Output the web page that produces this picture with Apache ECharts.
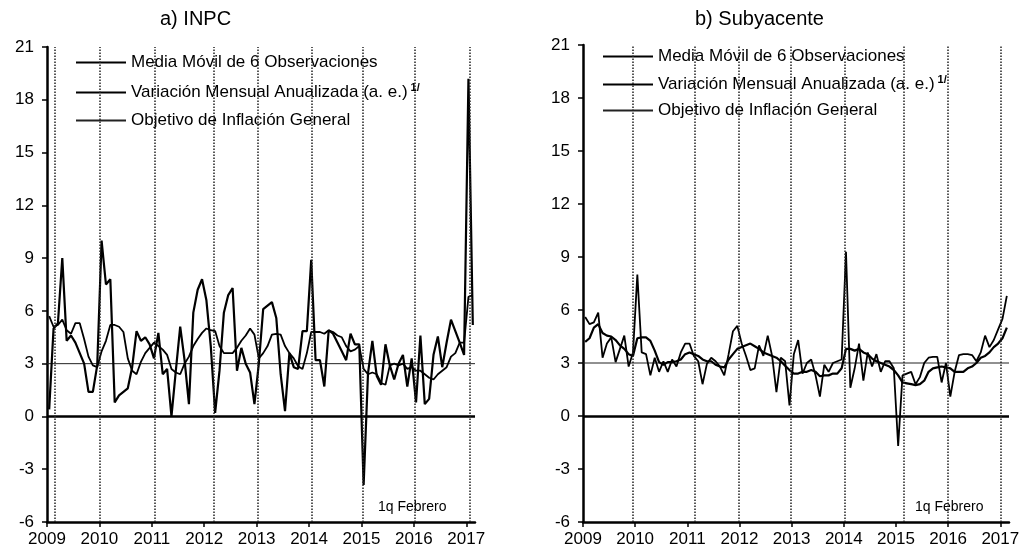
<!DOCTYPE html>
<html lang="es">
<head>
<meta charset="UTF-8">
<title>INPC y Subyacente</title>
<script src="https://cdn.jsdelivr.net/npm/echarts@6/dist/echarts.min.js"></script>
<style>
  body { margin: 0; background: #fff; }
  .panel { position: absolute; top: 0; width: 513px; height: 554px; }
</style>
</head>
<body>
<div id="a" class="panel" style="left:0"></div>
<div id="b" class="panel" style="left:513px"></div>
<script>
// datos mensuales, ene-2009 a 1q feb-2017 (se dibujan a mitad de mes)
var anios = ['2009', '2010', '2011', '2012', '2013', '2014', '2015', '2016', '2017'];
var objetivo = 3;

var inpcMedia = [
  5.7, 5.1, 5.2, 5.5, 4.9, 4.7, 5.3, 5.3, 4.4, 3.4,
  2.9, 2.8, 3.7, 4.3, 5.2, 5.2, 5.1, 4.8, 3.3, 2.6,
  2.4, 3.1, 3.6, 3.9, 4.2, 4.0, 3.8, 3.5, 2.7, 2.5,
  2.4, 3.0, 3.4, 4.0, 4.4, 4.75, 5.0, 4.9, 4.85, 4.0,
  3.6, 3.6, 3.6, 3.9, 4.3, 4.6, 5.0, 4.65, 3.3, 3.6,
  4.0, 4.65, 4.7, 4.65, 4.0, 3.6, 3.3, 2.85, 2.7, 3.6,
  4.8, 4.8, 4.8, 4.7, 4.9, 4.8, 4.6, 4.5, 4.0, 3.7,
  3.8, 4.0, 2.7, 2.4, 2.5, 2.4, 1.9, 1.8, 2.9, 3.0,
  2.9, 3.0, 2.7, 2.8, 2.6, 2.6, 2.4, 2.2, 2.1, 2.4,
  2.6, 2.8, 3.4, 3.6, 4.2, 4.2, 6.8, 6.9
];
var inpcVar = [
  0.4, 5.0, 5.3, 9.0, 4.3, 4.6, 4.2, 3.6, 3.0, 1.4,
  1.4, 2.9, 10.0, 7.5, 7.8, 0.8, 1.2, 1.4, 1.6, 2.8,
  4.85, 4.3, 4.5, 4.1, 3.3, 4.75, 2.4, 2.7, 0.0, 2.6,
  5.1, 3.2, 0.7, 5.9, 7.2, 7.8, 6.6, 4.0, 0.2, 2.6,
  5.9, 6.9, 7.3, 2.6, 3.9, 3.0, 2.5, 0.7, 3.0, 6.1,
  6.3, 6.5, 5.6, 2.4, 0.3, 3.6, 2.8, 2.7, 4.85, 4.85,
  8.9, 3.2, 3.2, 1.7, 4.9, 4.7, 4.2, 3.7, 3.2, 4.7,
  4.1, 4.1, -3.9, 2.45, 4.3, 2.3, 1.8, 4.1, 2.9, 2.1,
  3.0, 3.5, 1.7, 3.3, 0.8, 4.6, 0.7, 1.0, 3.5, 4.55,
  2.8, 4.2, 5.5, 4.85, 4.2, 3.5, 19.2, 5.2
];
var subMedia = [
  4.2, 4.4, 5.0, 5.2, 4.7, 4.55, 4.5, 4.3, 4.0, 3.8,
  3.5, 3.4, 4.4, 4.45, 4.45, 4.25, 3.7, 3.05, 2.9, 3.05,
  3.05, 3.1, 3.2, 3.5, 3.6, 3.5, 3.4, 3.2, 3.1, 3.1,
  2.9, 2.8, 2.75, 3.2, 3.5, 3.8, 3.9, 4.0, 4.1, 3.95,
  3.8, 3.6, 3.5, 3.4, 3.3, 3.1, 2.85, 2.6, 2.4, 2.4,
  2.5, 2.5, 2.6, 2.5, 2.25, 2.3, 2.3, 2.4, 2.4, 2.7,
  3.8, 3.8, 3.7, 3.8, 3.6, 3.5, 3.25, 3.1, 3.0, 2.9,
  2.8, 2.6, 2.3, 1.9, 1.85, 1.8, 1.75, 1.8, 2.0, 2.5,
  2.7, 2.75, 2.8, 2.75, 2.7, 2.5, 2.5, 2.5, 2.7, 2.8,
  3.0, 3.3, 3.4, 3.6, 3.9, 4.1, 4.4, 5.0
];
var subVar = [
  5.6, 5.2, 5.3, 5.85, 3.3, 4.1, 4.45, 3.05, 3.8, 4.55,
  2.8, 3.6, 8.0, 3.6, 3.5, 2.3, 3.3, 2.5, 3.1, 2.5,
  3.2, 2.8, 3.6, 4.1, 4.1, 3.4, 3.1, 1.8, 2.95, 3.3,
  3.1, 2.8, 2.3, 3.5, 4.8, 5.1, 4.1, 3.4, 2.6, 2.7,
  4.0, 3.4, 4.55, 3.4, 1.35, 3.3, 3.1, 0.6, 3.5, 4.3,
  2.4, 3.0, 3.2, 2.3, 1.1, 2.9, 2.5, 3.0, 3.1, 3.2,
  9.3, 1.6, 2.7, 4.1, 2.0, 3.6, 2.8, 3.5, 2.5, 3.1,
  3.1, 2.7, -1.7, 2.3, 2.4, 2.5, 1.8, 2.2, 3.0, 3.3,
  3.35, 3.35, 1.9, 3.0, 1.1, 2.5, 3.45, 3.5, 3.5, 3.45,
  3.1, 3.6, 4.55, 3.9, 4.3, 4.9, 5.5, 6.8
];
// lineas punteadas verticales (en meses desde ene-2009)
var marcasA = [1.7, 12, 24.6, 38.2, 48.2, 60.6, 72.3, 84.3, 96.7];
var marcasB = [11.5, 25.7, 35.8, 47.7, 60.1, 73.9, 84, 96];

var nombres = ['Media Móvil de 6 Observaciones', 'Variación Mensual Anualizada (a. e.)', 'Objetivo de Inflación General'];
var fuente = '"Liberation Sans", Arial, sans-serif';

function serie(valores) {
  return valores.map(function (v, i) { return [i + 0.5, v]; });
}

function dibujar(id, cfg) {
  var chart = echarts.init(document.getElementById(id));
  var option = {
    animation: false,
    backgroundColor: '#fff',
    textStyle: { fontFamily: fuente, color: '#000' },
    title: {
      text: cfg.titulo,
      left: cfg.tituloX,
      top: 4,
      textStyle: { fontFamily: fuente, fontSize: 20, fontWeight: 'normal', color: '#000' }
    },
    legend: {
      data: nombres,
      orient: 'vertical',
      left: cfg.leyendaX,
      top: cfg.leyendaY,
      padding: 0,
      itemWidth: 50,
      itemHeight: 12,
      itemGap: cfg.leyendaGap,
      selectedMode: false,
      itemStyle: { opacity: 0 },
      formatter: function (name) {
        return name === nombres[1] ? name + '{s|1/}' : name;
      },
      textStyle: {
        fontFamily: fuente, fontSize: cfg.leyendaFuente, color: '#000',
        rich: { s: { fontSize: 11, fontWeight: 'bold', padding: [0, 0, 10, 3] } }
      }
    },
    grid: { left: cfg.gridX, top: cfg.gridY, width: cfg.ancho, height: cfg.alto },
    xAxis: {
      type: 'value',
      min: 0,
      max: 98,
      interval: 12,
      axisLine: { onZero: false, lineStyle: { color: '#000', width: 2.5 } },
      axisTick: { length: 5, lineStyle: { color: '#000', width: 1.5 },
        customValues: anios.map(function (a, k) { return k * 12; }) },
      axisLabel: {
        fontSize: 17, color: '#000', margin: 9,
        customValues: anios.map(function (a, k) { return k * 12; }),
        formatter: function (v) { return anios[Math.round(v / 12)]; }
      },
      splitLine: { show: false }
    },
    yAxis: {
      type: 'value',
      min: -6,
      max: 21,
      interval: 3,
      axisLine: { show: true, lineStyle: { color: '#000', width: 2.5 } },
      axisTick: { show: true, length: 5, lineStyle: { color: '#000', width: 1.5 } },
      axisLabel: { fontSize: 17, color: '#000', margin: 13 },
      splitLine: { show: false }
    },
    graphic: [{
      type: 'text',
      left: cfg.notaX,
      top: 500,
      style: { text: '1q Febrero', font: '14px ' + fuente, fill: '#000' }
    }],
    series: [
      {
        name: nombres[2],
        type: 'line',
        symbol: 'none',
        data: [[0, objetivo], [98, objetivo]],
        itemStyle: { color: '#222' },
        lineStyle: { color: '#222', width: 1 },
        markLine: {
          silent: true,
          symbol: 'none',
          label: { show: false },
          data: [{ yAxis: 0, lineStyle: { color: '#000', width: 2.5, type: 'solid' } }]
            .concat(cfg.marcas.map(function (x) {
              return { xAxis: x, lineStyle: { color: '#222', width: 1.5, type: [1.5, 1.5] } };
            }))
        }
      },
      {
        name: nombres[0],
        type: 'line',
        symbol: 'none',
        data: serie(cfg.media),
        itemStyle: { color: '#000' },
        lineStyle: { color: '#000', width: cfg.anchoMedia }
      },
      {
        name: nombres[1],
        type: 'line',
        symbol: 'none',
        data: serie(cfg.variacion),
        itemStyle: { color: '#000' },
        lineStyle: { color: '#000', width: cfg.anchoVar }
      }
    ]
  };
  chart.setOption(option);
}

dibujar('a', {
  titulo: 'a) INPC', tituloX: 155,
  leyendaX: 75, leyendaY: 54, leyendaGap: 11, leyendaFuente: 17,
  gridX: 47, gridY: 47, ancho: 428, alto: 475,
  notaX: 378,
  marcas: marcasA,
  media: inpcMedia, variacion: inpcVar,
  anchoMedia: 1.8, anchoVar: 2.2
});
dibujar('b', {
  titulo: 'b) Subyacente', tituloX: 177,
  leyendaX: 89, leyendaY: 48, leyendaGap: 9, leyendaFuente: 17,
  gridX: 70, gridY: 45, ancho: 426, alto: 477,
  notaX: 402,
  marcas: marcasB,
  media: subMedia, variacion: subVar,
  anchoMedia: 2.2, anchoVar: 1.8
});
</script>
</body>
</html>
